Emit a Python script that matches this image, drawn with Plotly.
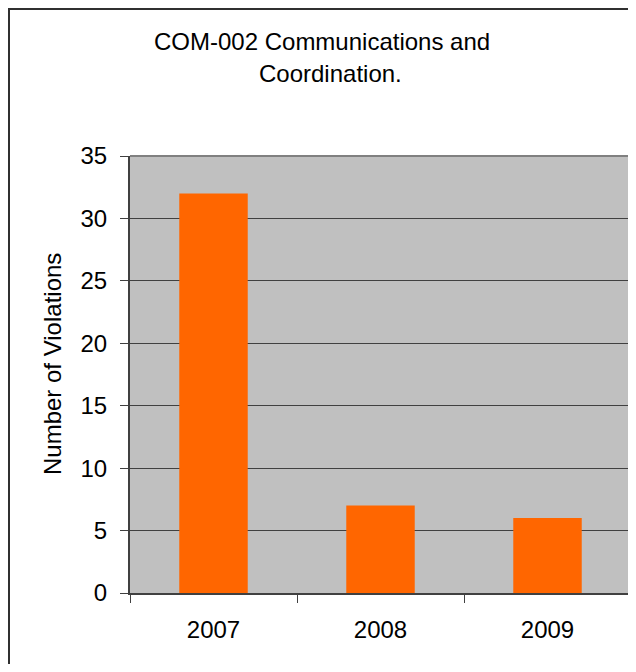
import plotly.graph_objects as go

years = ["2007", "2008", "2009"]
violations = [32, 7, 6]

fig = go.Figure(go.Bar(x=years, y=violations, marker=dict(color="#FF6600", line=dict(width=0)),
                       width=0.41))

fnt = dict(family="Liberation Sans, Arial", size=24, color="#000000")

# page body has an 8px margin; figure sized so the page does not scroll,
# margins put the plot at 130..631 x 156..593 on screen
fig.update_layout(
    width=628, height=656,
    margin=dict(l=122, r=5, t=148, b=71),
    paper_bgcolor="white",
    plot_bgcolor="#C0C0C0",
    showlegend=False,
    font=fnt,
)

fig.update_yaxes(range=[0, 35], dtick=5, showgrid=True, gridcolor="#404040", gridwidth=1,
                 showline=True, linecolor="#404040", linewidth=2,
                 ticks="outside", ticklen=8, tickcolor="#404040", tickfont=fnt,
                 ticklabelstandoff=8, zeroline=False, fixedrange=True)
fig.update_xaxes(showline=True, linecolor="#404040", linewidth=2, showgrid=False,
                 ticks="outside", ticklen=8, tickcolor="#404040", tickson="boundaries",
                 tickfont=fnt, ticklabelstandoff=14, fixedrange=True)

# gray top/right border of plot area
fig.add_shape(type="line", xref="paper", yref="paper", x0=0, x1=1, y0=1, y1=1,
              line=dict(color="#808080", width=2))
fig.add_shape(type="line", xref="paper", yref="paper", x0=1, x1=1, y0=0, y1=1,
              line=dict(color="#808080", width=2))

# outer chart border (only top and left fall inside the picture)
fig.add_shape(type="rect", xref="paper", yref="paper",
              x0=(9 - 130) / 501, x1=2, y0=-1, y1=(593 - 9) / 437,
              line=dict(color="#303030", width=2))

fig.add_annotation(text="COM-002 Communications and", xref="paper", yref="paper",
                   x=(152 - 130) / 501, y=(593 - 41) / 437, showarrow=False,
                   xanchor="left", yanchor="middle", font=fnt)
fig.add_annotation(text="Coordination.", xref="paper", yref="paper",
                   x=(330 - 130) / 501, y=(593 - 73) / 437, showarrow=False,
                   xanchor="center", yanchor="middle", font=fnt)
fig.add_annotation(text="Number of Violations", xref="paper", yref="paper",
                   x=(52 - 130) / 501, y=(593 - 364) / 437, showarrow=False, textangle=-90,
                   xanchor="center", yanchor="middle", font=fnt)

fig.write_html("out.html")
